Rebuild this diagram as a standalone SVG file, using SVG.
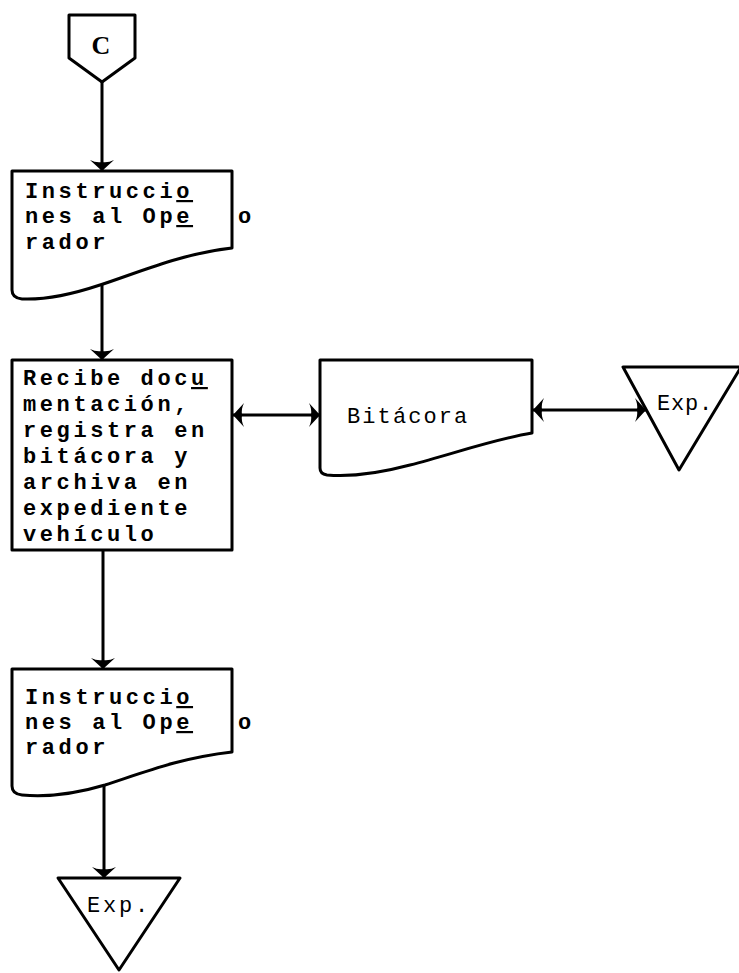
<svg xmlns="http://www.w3.org/2000/svg" width="739" height="973" viewBox="0 0 739 973">
<style>
.shape{fill:#fff;stroke:#000;stroke-width:3;stroke-linejoin:round}
.conn{fill:none;stroke:#000;stroke-width:3}
.t{font-family:"Liberation Mono","DejaVu Sans Mono",monospace;font-size:22px;letter-spacing:3.6px;fill:#000;font-weight:bold}
.u{text-decoration:underline}
</style>
<defs>
<marker id="ah" viewBox="-12 -14 13 28" refX="0" refY="0" markerWidth="13" markerHeight="28" markerUnits="userSpaceOnUse" orient="auto-start-reverse">
<path d="M0,0 L-11,-12 Q-8,-6 -9,0 Q-8,6 -11,12 Z" fill="#000"/>
</marker>
</defs>
<rect width="739" height="973" fill="#fff"/>
<g id="connectors">
<line class="conn" x1="102" y1="82" x2="102" y2="171" marker-end="url(#ah)"/>
<line class="conn" x1="102" y1="285" x2="102" y2="360" marker-end="url(#ah)"/>
<line class="conn" x1="103" y1="550" x2="103" y2="669" marker-end="url(#ah)"/>
<line class="conn" x1="104" y1="785" x2="104" y2="878" marker-end="url(#ah)"/>
<line class="conn" x1="233" y1="415" x2="320" y2="415" marker-start="url(#ah)" marker-end="url(#ah)"/>
<line class="conn" x1="533" y1="410" x2="646" y2="410" marker-start="url(#ah)" marker-end="url(#ah)"/>
</g>
<g id="connector-c">
<path class="shape" d="M69,15 H135 V58 L102,82 L69,58 Z"/>
<text x="101" y="54" text-anchor="middle" style="font-family:'Liberation Serif',serif;font-weight:bold;font-size:26px">C</text>
</g>
<g id="doc1">
<path class="shape" d="M12,171 H232 V248 C180,254 140,272 100,285 C70,295 45,300 22,299 Q12,298 12,290 Z"/>
<text class="t" x="25" y="198">Instrucci<tspan class="u">o</tspan></text>
<text class="t" x="25" y="223">nes al Op<tspan class="u">e</tspan></text>
<text class="t" x="25" y="249">rador</text>
<text class="t" x="238" y="223">o</text>
</g>
<g id="process">
<rect class="shape" x="12" y="360" width="220" height="190"/>
<text class="t" x="23" y="385">Recibe doc<tspan class="u">u</tspan></text>
<text class="t" x="23" y="411">mentación,</text>
<text class="t" x="23" y="437">registra en</text>
<text class="t" x="23" y="463">bitácora y</text>
<text class="t" x="23" y="489">archiva en</text>
<text class="t" x="23" y="515">expediente</text>
<text class="t" x="23" y="541">vehículo</text>
</g>
<g id="bitacora">
<path class="shape" d="M320,360 H532 V433 C490,440 450,455 410,465 C380,473 350,477 327,475 Q320,474 320,468 Z"/>
<text class="t" x="347" y="423" style="letter-spacing:2.1px;font-weight:normal">Bitácora</text>
</g>
<g id="exp-right">
<path class="shape" d="M623,367 H741 L679,470 Z"/>
<text class="t" x="657" y="410" style="letter-spacing:0.8px;font-weight:normal">Exp.</text>
</g>
<g id="doc2">
<path class="shape" d="M12,669 H232 V752 C180,758 145,772 105,785 C75,794 45,797 22,795 Q12,794 12,786 Z"/>
<text class="t" x="25" y="704">Instrucci<tspan class="u">o</tspan></text>
<text class="t" x="25" y="729">nes al Op<tspan class="u">e</tspan></text>
<text class="t" x="25" y="754">rador</text>
<text class="t" x="238" y="729">o</text>
</g>
<g id="exp-bottom">
<path class="shape" d="M58,878 H180 L119,970 Z"/>
<text class="t" x="87" y="912" style="letter-spacing:2.8px;font-weight:normal">Exp.</text>
</g>
</svg>
